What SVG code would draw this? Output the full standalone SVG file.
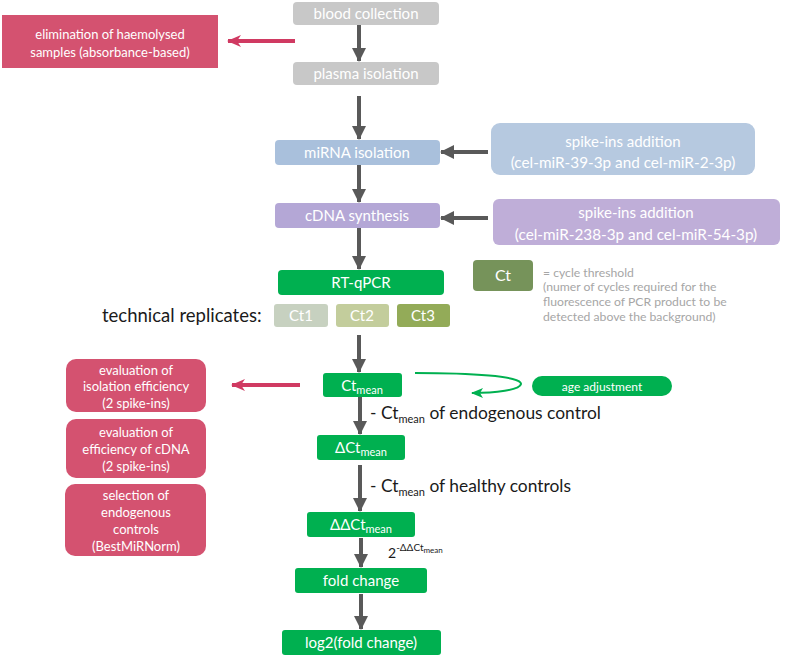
<svg xmlns="http://www.w3.org/2000/svg" width="791" height="657" viewBox="0 0 791 657">
<style>
text{font-family:Lato,"Open Sans","Liberation Sans",sans-serif}
.w{fill:#fff;text-anchor:middle}
.b{fill:#1a1a1a}
.g{fill:#a6a6a6;font-size:12.2px}
.conn{stroke:#595959;stroke-width:4;fill:none}
.red{stroke:#d03a62;stroke-width:4;fill:none}
.grn{fill:#00b050}
.pink{fill:#d45270}
</style>
<defs>
<marker id="ah" markerUnits="userSpaceOnUse" markerWidth="14" markerHeight="14" refX="13" refY="7" orient="auto">
<path d="M0,0 L14,7 L0,14 Z" fill="#595959"/>
</marker>
<marker id="ahr" markerUnits="userSpaceOnUse" markerWidth="14" markerHeight="14" refX="13" refY="7" orient="auto">
<path d="M0,1 L14,7 L0,13 L4,7 Z" fill="#d03a62"/>
</marker>
<marker id="ahg" markerUnits="userSpaceOnUse" markerWidth="12" markerHeight="12" refX="11" refY="6" orient="auto">
<path d="M0,1 L12,6 L0,11 L3,6 Z" fill="#00b050"/>
</marker>
</defs>

<g id="connectors">
<line class="conn" x1="359" y1="25" x2="359" y2="61" marker-end="url(#ah)"/>
<line class="conn" x1="359" y1="96" x2="359" y2="139" marker-end="url(#ah)"/>
<line class="conn" x1="359" y1="165" x2="359" y2="202" marker-end="url(#ah)"/>
<line class="conn" x1="359" y1="228" x2="359" y2="269" marker-end="url(#ah)"/>
<line class="conn" x1="359" y1="335" x2="359" y2="372" marker-end="url(#ah)"/>
<line class="conn" x1="360" y1="397" x2="360" y2="434" marker-end="url(#ah)"/>
<line class="conn" x1="360" y1="465" x2="360" y2="511" marker-end="url(#ah)"/>
<line class="conn" x1="361" y1="538" x2="361" y2="567" marker-end="url(#ah)"/>
<line class="conn" x1="361" y1="594" x2="361" y2="629" marker-end="url(#ah)"/>
<line class="conn" x1="488" y1="152" x2="441" y2="152" marker-end="url(#ah)"/>
<line class="conn" x1="488" y1="218" x2="441" y2="218" marker-end="url(#ah)"/>
<line class="red" x1="295" y1="41" x2="228" y2="41" marker-end="url(#ahr)"/>
<line class="red" x1="300" y1="385" x2="232" y2="385" marker-end="url(#ahr)"/>
<path d="M415,373 C470,373 522,376 521,384 C520,390 495,393 472,393" stroke="#00b050" stroke-width="2" fill="none" marker-end="url(#ahg)"/>
</g>

<g id="elimination">
<rect x="2" y="15" width="216" height="53" fill="#d45270"/>
<text class="w" x="110" y="39" font-size="13">elimination  of haemolysed</text>
<text class="w" x="110" y="57" font-size="13">samples (absorbance-based)</text>
</g>

<g id="blood-collection">
<rect x="293" y="2" width="146" height="23" rx="4" fill="#c8c8c8"/>
<text class="w" x="366" y="19" font-size="15">blood collection</text>
</g>

<g id="plasma-isolation">
<rect x="293" y="62" width="146" height="23" rx="4" fill="#c8c8c8"/>
<text class="w" x="366" y="79" font-size="15">plasma isolation</text>
</g>

<g id="mirna-isolation">
<rect x="275" y="140" width="165" height="25" rx="4" fill="#a9c0dc"/>
<text class="w" x="357" y="158" font-size="15">miRNA isolation</text>
</g>

<g id="spike-blue">
<rect x="491" y="123" width="264" height="52" rx="9" fill="#b6c9e0"/>
<text class="w" x="623" y="147" font-size="15">spike-ins  addition</text>
<text class="w" x="623" y="168" font-size="15.3">(cel-miR-39-3p  and cel-miR-2-3p)</text>
</g>

<g id="cdna-synthesis">
<rect x="275" y="203" width="165" height="25" rx="4" fill="#b4a7d6"/>
<text class="w" x="357" y="221" font-size="15">cDNA synthesis</text>
</g>

<g id="spike-purple">
<rect x="493" y="199" width="287" height="46" rx="6" fill="#bfaed8"/>
<text class="w" x="636" y="218" font-size="15">spike-ins  addition</text>
<text class="w" x="636" y="240" font-size="15.3">(cel-miR-238-3p  and cel-miR-54-3p)</text>
</g>

<g id="rt-qpcr">
<rect x="278" y="270" width="166" height="25" rx="4" class="grn"/>
<text class="w" x="361" y="288" font-size="15">RT-qPCR</text>
</g>

<text class="b" x="102" y="322" font-size="18.5">technical replicates:</text>

<g id="ct1">
<rect x="274" y="304" width="54" height="23" rx="3" fill="#c7d1c0"/>
<text class="w" x="301" y="321" font-size="15">Ct1</text>
</g>
<g id="ct2">
<rect x="336" y="304" width="53" height="23" rx="3" fill="#c3cd9c"/>
<text class="w" x="362" y="321" font-size="15">Ct2</text>
</g>
<g id="ct3">
<rect x="397" y="304" width="53" height="23" rx="3" fill="#93ab58"/>
<text class="w" x="423" y="321" font-size="15">Ct3</text>
</g>

<g id="ct-legend">
<rect x="473" y="260" width="60" height="31" rx="4" fill="#76935a"/>
<text class="w" x="503" y="281" font-size="16">Ct</text>
<text class="g" x="543" y="277">= cycle threshold</text>
<text class="g" x="543" y="291">(numer of cycles required for the</text>
<text class="g" x="543" y="306">fluorescence  of PCR product to be</text>
<text class="g" x="543" y="321">detected  above the background)</text>
</g>

<g id="eval-isolation">
<rect x="66" y="359" width="140" height="53" rx="10" class="pink"/>
<text class="w" x="136" y="375" font-size="13">evaluation of</text>
<text class="w" x="136" y="391" font-size="13">isolation efficiency</text>
<text class="w" x="136" y="408" font-size="13">(2 spike-ins)</text>
</g>

<g id="eval-cdna">
<rect x="66" y="419" width="140" height="59" rx="10" class="pink"/>
<text class="w" x="136" y="437" font-size="13">evaluation of</text>
<text class="w" x="136" y="454" font-size="13">efficiency of cDNA</text>
<text class="w" x="136" y="471" font-size="13">(2 spike-ins)</text>
</g>

<g id="selection">
<rect x="65" y="484" width="141" height="72" rx="10" class="pink"/>
<text class="w" x="136" y="500" font-size="13">selection of</text>
<text class="w" x="136" y="517" font-size="13">endogenous</text>
<text class="w" x="136" y="534" font-size="13">controls</text>
<text class="w" x="136" y="551" font-size="13">(BestMiRNorm)</text>
</g>

<g id="ct-mean">
<rect x="323" y="373" width="79" height="24" rx="3" class="grn"/>
<text class="w" x="362" y="391" font-size="15">Ct<tspan font-size="11" dy="3">mean</tspan></text>
</g>

<g id="age-adjustment">
<rect x="532" y="376" width="140" height="20" rx="10" class="grn"/>
<text class="w" x="602" y="391" font-size="12">age adjustment</text>
</g>

<text class="b" x="370" y="419" font-size="17.4">- Ct<tspan font-size="11" dy="4">mean</tspan><tspan dy="-4"> of endogenous control</tspan></text>

<g id="delta-ct-mean">
<rect x="317" y="435" width="88" height="25" rx="3" class="grn"/>
<text class="w" x="361" y="453" font-size="15">ΔCt<tspan font-size="11" dy="3">mean</tspan></text>
</g>

<text class="b" x="370" y="492" font-size="17.4">- Ct<tspan font-size="11" dy="4">mean</tspan><tspan dy="-4"> of healthy controls</tspan></text>

<g id="delta-delta-ct-mean">
<rect x="307" y="512" width="108" height="25" rx="3" class="grn"/>
<text class="w" x="361" y="530" font-size="15">ΔΔCt<tspan font-size="11" dy="3">mean</tspan></text>
</g>

<text class="b" x="388" y="558" font-size="14">2<tspan font-size="10" dy="-7">-ΔΔCt</tspan><tspan font-size="8" dy="2">mean</tspan></text>

<g id="fold-change">
<rect x="295" y="568" width="132" height="25" rx="3" class="grn"/>
<text class="w" x="361" y="586" font-size="15">fold change</text>
</g>

<g id="log2-fold-change">
<rect x="282" y="630" width="159" height="25" rx="3" class="grn"/>
<text class="w" x="361" y="648" font-size="15">log2(fold change)</text>
</g>
</svg>
